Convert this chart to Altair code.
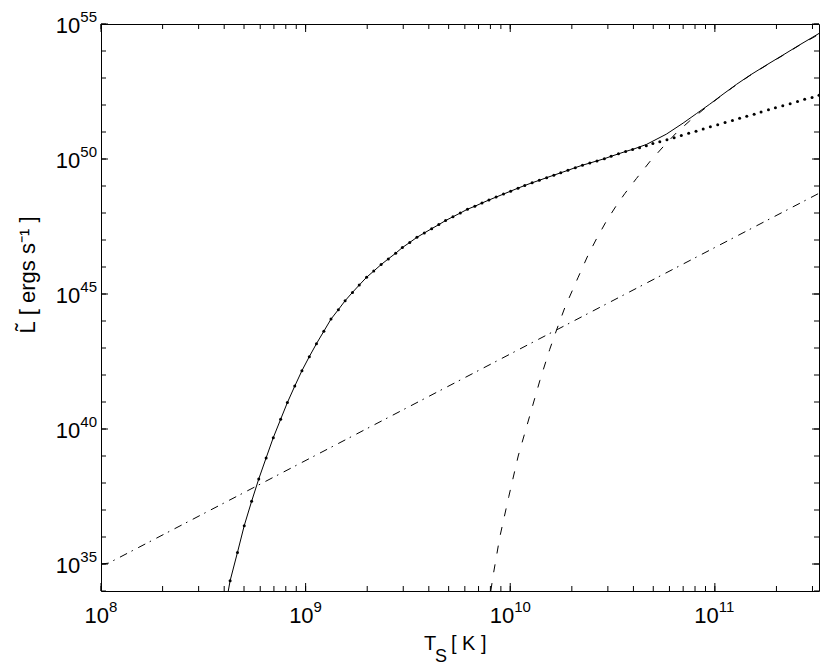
import math
import altair as alt
import pandas as pd

# ---- data (log10 values) ----
solid_logT = [8.622, 8.631, 8.667, 8.700, 8.736, 8.771, 8.807, 8.842, 8.878, 8.911, 8.947,
              8.982, 9.018, 9.053, 9.089, 9.124, 9.160, 9.193, 9.229, 9.262, 9.298, 9.333,
              9.369, 9.404, 9.440, 9.473, 9.509, 9.544, 9.580, 9.616, 9.651, 9.684, 9.720,
              9.756, 9.791, 9.827, 9.862, 9.896, 9.931, 9.967, 10.002, 10.038, 10.071, 10.107,
              10.142, 10.178, 10.213, 10.247, 10.282, 10.318, 10.353, 10.389, 10.424, 10.460,
              10.493, 10.529, 10.564, 10.600, 10.666, 10.763, 10.845, 10.910, 10.975, 11.040,
              11.105, 11.171, 11.252, 11.333, 11.415, 11.509]
solid_logL = [34.00, 34.38, 35.43, 36.42, 37.32, 38.15, 38.93, 39.68, 40.36, 40.98, 41.59,
              42.16, 42.68, 43.16, 43.62, 44.07, 44.42, 44.75, 45.06, 45.33, 45.62, 45.85,
              46.09, 46.30, 46.51, 46.72, 46.91, 47.10, 47.26, 47.42, 47.57, 47.72, 47.86,
              48.00, 48.14, 48.25, 48.37, 48.48, 48.59, 48.70, 48.81, 48.92, 49.02, 49.12,
              49.21, 49.31, 49.40, 49.49, 49.58, 49.68, 49.77, 49.85, 49.93, 50.01,
              50.10, 50.19, 50.28, 50.36, 50.54, 50.92, 51.33, 51.68, 52.03, 52.40,
              52.76, 53.10, 53.48, 53.85, 54.23, 54.65]

dotted_logT = [8.631, 8.667, 8.700, 8.736, 8.771, 8.807, 8.842, 8.878, 8.911, 8.947,
               8.982, 9.018, 9.053, 9.089, 9.124, 9.160, 9.193, 9.229, 9.262, 9.298, 9.333,
               9.369, 9.404, 9.440, 9.473, 9.509, 9.544, 9.580, 9.616, 9.651, 9.684, 9.720,
               9.756, 9.791, 9.827, 9.862, 9.896, 9.931, 9.967, 10.002, 10.038, 10.071, 10.107,
               10.142, 10.178, 10.213, 10.247, 10.282, 10.318, 10.353, 10.389, 10.424, 10.460,
               10.493, 10.529, 10.564, 10.598, 10.632, 10.665, 10.697, 10.731, 10.766, 10.801,
               10.836, 10.872, 10.908, 10.943, 10.978, 11.014, 11.050, 11.086, 11.121, 11.156,
               11.192, 11.226, 11.262, 11.296, 11.332, 11.368, 11.404, 11.439, 11.475, 11.509]
dotted_logL = [34.38, 35.43, 36.42, 37.32, 38.15, 38.93, 39.68, 40.36, 40.98, 41.59,
               42.16, 42.68, 43.16, 43.62, 44.07, 44.42, 44.75, 45.06, 45.33, 45.62, 45.85,
               46.09, 46.30, 46.51, 46.72, 46.91, 47.10, 47.26, 47.42, 47.57, 47.72, 47.86,
               48.00, 48.14, 48.25, 48.37, 48.48, 48.59, 48.70, 48.81, 48.92, 49.02, 49.12,
               49.21, 49.31, 49.40, 49.49, 49.58, 49.68, 49.77, 49.85, 49.93, 50.01,
               50.10, 50.19, 50.28, 50.35, 50.42, 50.49, 50.57, 50.64, 50.71, 50.79,
               50.87, 50.95, 51.03, 51.11, 51.19, 51.27, 51.35, 51.43, 51.51, 51.58,
               51.66, 51.74, 51.82, 51.90, 51.97, 52.05, 52.13, 52.21, 52.28, 52.36]

dashed_logT = [9.905, 9.917, 9.949, 9.993, 10.039, 10.145, 10.193, 10.228, 10.267, 10.332,
               10.381, 10.422, 10.470, 10.519, 10.560, 10.617, 10.682, 10.747, 10.812, 10.877,
               10.942, 11.024, 11.087, 11.171, 11.252, 11.333, 11.415, 11.509]
dashed_logL = [34.00, 34.60, 36.00, 37.50, 39.00, 41.80, 42.95, 43.70, 44.50, 45.62,
               46.45, 47.05, 47.70, 48.28, 48.72, 49.28, 49.90, 50.45, 50.97, 51.41,
               51.82, 52.30, 52.65, 53.09, 53.47, 53.84, 54.22, 54.62]

dashdot_logT = [8.000, 8.036, 11.509]
dashdot_logL = [35.00, 35.03, 48.73]

x_domain_log = [8.0, 11.509]
y_domain_log = [34.0, 55.0]
x_major = [1e8, 1e9, 1e10, 1e11]
x_all = [k * 10.0 ** d for d in range(8, 12) for k in range(1, 10) if k * 10.0 ** d <= 10 ** 11.509]
y_major = [1e35, 1e40, 1e45, 1e50, 1e55]
y_all = [10.0 ** d for d in range(34, 56)]

x_title = ["T", "S", "[ K ]"]
y_title = "L\u0303 [ ergs s\u207b\u00b9 ]"

FONT = "Liberation Sans"
W, H = 718, 567
TICK_COLOR = "black"


def frame(lt, ll):
    return pd.DataFrame({"T": [10.0 ** v for v in lt],
                         "L": [10.0 ** v for v in ll],
                         "i": list(range(len(lt)))})


xs = alt.Scale(type="log", domain=[10 ** x_domain_log[0], 10 ** x_domain_log[1]], nice=False)
ys = alt.Scale(type="log", domain=[10 ** y_domain_log[0], 10 ** y_domain_log[1]], nice=False)
X = lambda f: alt.X(f, scale=xs, axis=None)
Y = lambda f: alt.Y(f, scale=ys, axis=None)

solid = alt.Chart(frame(solid_logT, solid_logL)).mark_line(
    color="black", strokeWidth=1, clip=True).encode(x=X("T:Q"), y=Y("L:Q"), order="i:Q")

dashed = alt.Chart(frame(dashed_logT, dashed_logL)).mark_line(
    color="black", strokeWidth=1, strokeDash=[8, 11], clip=True).encode(
    x=X("T:Q"), y=Y("L:Q"), order="i:Q")

dashdot = alt.Chart(frame(dashdot_logT, dashdot_logL)).mark_line(
    color="black", strokeWidth=1, strokeDash=[8, 5, 1.5, 6], clip=True).encode(
    x=X("T:Q"), y=Y("L:Q"), order="i:Q")

dotted = alt.Chart(frame(dotted_logT, dotted_logL)).mark_point(
    filled=True, shape="circle", size=9, color="black", opacity=1, clip=True).encode(
    x=X("T:Q"), y=Y("L:Q"))


# ---- inward ticks on all four sides, drawn as short tick marks ----
def xticks(vals, y_center, length):
    return alt.Chart(pd.DataFrame({"v": vals})).mark_tick(
        color=TICK_COLOR, thickness=1, size=length, orient="vertical", opacity=1).encode(
        x=X("v:Q"), y=alt.value(y_center))


def yticks(vals, x_center, length):
    return alt.Chart(pd.DataFrame({"v": vals})).mark_tick(
        color=TICK_COLOR, thickness=1, size=length, orient="horizontal", opacity=1).encode(
        y=Y("v:Q"), x=alt.value(x_center))


ticks = [
    xticks(x_all, H - 2.5, 5), xticks(x_major, H - 4, 8),
    xticks(x_all, 2.5, 5), xticks(x_major, 4, 8),
    yticks(y_all, 2.5, 5), yticks(y_major, 3.5, 7),
    yticks(y_all, W - 2.5, 5), yticks(y_major, W - 3.5, 7),
]


# ---- tick labels 10^k drawn as "10" + raised exponent ----
def exp_df(vals):
    return pd.DataFrame({"v": vals, "b": ["10"] * len(vals),
                         "e": [str(int(round(math.log10(v)))) for v in vals]})


def xlabels(vals, d):
    base = alt.Chart(exp_df(vals))
    ten = base.mark_text(align="right", baseline="alphabetic", dx=d, font=FONT, fontSize=22,
                         color="black").encode(x=X("v:Q"), y=alt.value(H + 32), text="b:N")
    ex = base.mark_text(align="left", baseline="alphabetic", dx=d, font=FONT, fontSize=15,
                        color="black").encode(x=X("v:Q"), y=alt.value(H + 21), text="e:N")
    return [ten, ex]


ybase = alt.Chart(exp_df(y_major))
ylabels = [
    ybase.mark_text(align="right", baseline="alphabetic", dy=9, font=FONT, fontSize=22,
                    color="black").encode(y=Y("v:Q"), x=alt.value(-20.7), text="b:N"),
    ybase.mark_text(align="left", baseline="alphabetic", dy=-2, font=FONT, fontSize=15,
                    color="black").encode(y=Y("v:Q"), x=alt.value(-20.7), text="e:N"),
]

one = pd.DataFrame({"a": [0]})
titles = [
    alt.Chart(one).mark_text(text=x_title[0], align="left", baseline="alphabetic", font=FONT,
                             fontSize=20, color="black").encode(x=alt.value(323), y=alt.value(626)),
    alt.Chart(one).mark_text(text=x_title[1], align="left", baseline="alphabetic", font=FONT,
                             fontSize=18, color="black").encode(x=alt.value(334), y=alt.value(638)),
    alt.Chart(one).mark_text(text=x_title[2], align="left", baseline="alphabetic", font=FONT,
                             fontSize=20, color="black").encode(x=alt.value(350), y=alt.value(626)),
    alt.Chart(one).mark_text(text=y_title, angle=270, align="center", baseline="alphabetic",
                             font=FONT, fontSize=22, color="black").encode(
        x=alt.value(-66), y=alt.value(251)),
]

layers = ([solid, dashed, dashdot, dotted] + ticks
          + xlabels(x_major[:2], 8) + xlabels(x_major[2:], 4) + ylabels + titles)

chart = alt.layer(*layers).properties(
    width=W, height=H,
    autosize=alt.AutoSizeParams(type="none"),
    padding={"left": 93, "top": 16, "right": 3, "bottom": 75},
    background="white",
).configure_view(stroke="black", strokeWidth=1)

chart.save("out.html", embed_options={"renderer": "svg", "actions": False})
